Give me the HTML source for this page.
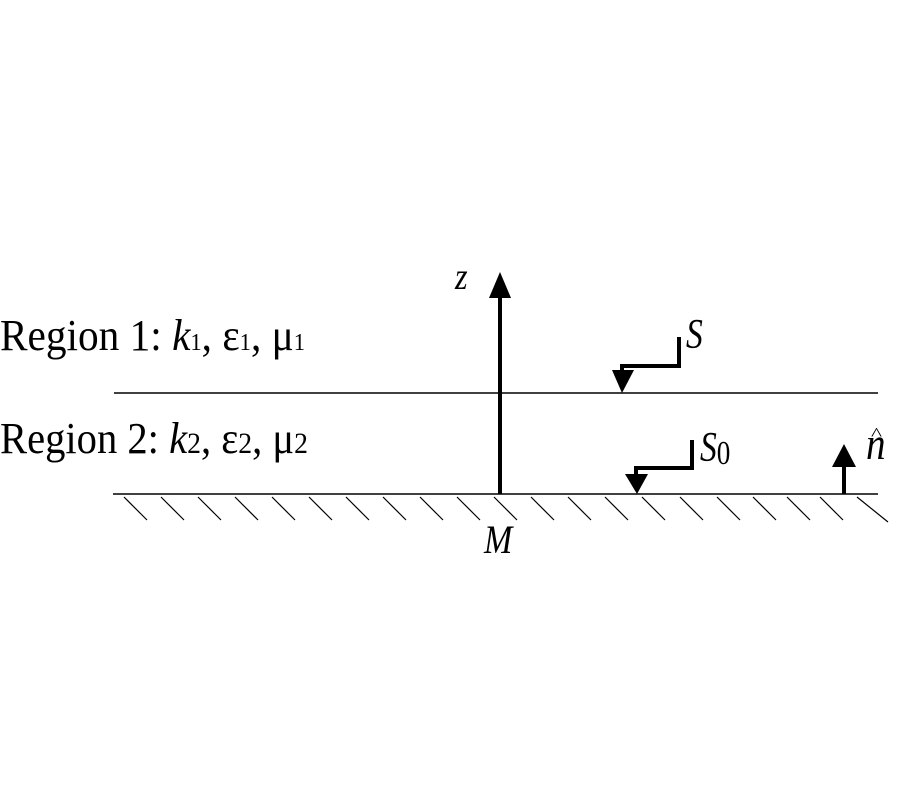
<!DOCTYPE html>
<html><head><meta charset="utf-8"><style>html,body{margin:0;padding:0;background:#fff}svg{display:block}</style></head>
<body>
<svg width="900" height="800" viewBox="0 0 900 800" xmlns="http://www.w3.org/2000/svg" font-family="Liberation Serif, serif">
<rect width="900" height="800" fill="#fff"/>
<line x1="114" y1="393" x2="878" y2="393" stroke="#000" stroke-width="1.5"/>
<line x1="113" y1="494" x2="878" y2="494" stroke="#000" stroke-width="1.5"/>
<g stroke="#000" stroke-width="1.2">
<line x1="124" y1="497" x2="147" y2="520"/><line x1="161" y1="497" x2="184" y2="520"/>
<line x1="198" y1="497" x2="221" y2="520"/><line x1="235" y1="497" x2="258" y2="520"/>
<line x1="272" y1="497" x2="295" y2="520"/><line x1="309" y1="497" x2="332" y2="520"/>
<line x1="346" y1="497" x2="369" y2="520"/><line x1="383" y1="497" x2="406" y2="520"/>
<line x1="420" y1="497" x2="443" y2="520"/><line x1="457" y1="497" x2="480" y2="520"/>
<line x1="494" y1="497" x2="517" y2="520"/><line x1="531" y1="497" x2="554" y2="520"/>
<line x1="568" y1="497" x2="591" y2="520"/><line x1="605" y1="497" x2="628" y2="520"/>
<line x1="642" y1="497" x2="665" y2="520"/><line x1="680" y1="497" x2="703" y2="520"/>
<line x1="717" y1="497" x2="740" y2="520"/><line x1="753" y1="497" x2="776" y2="520"/>
<line x1="787" y1="497" x2="810" y2="520"/><line x1="820" y1="497" x2="843" y2="520"/>
<line x1="857" y1="497" x2="888" y2="522"/>
</g>
<line x1="500" y1="494" x2="500" y2="296" stroke="#000" stroke-width="4"/>
<polygon points="489,298 511,298 500,272" fill="#000"/>
<text x="455" y="289" font-size="38" font-style="italic" transform="translate(455,289) scale(0.85,1) translate(-455,-289)">z</text>
<polyline points="679,337 679,366 622,366 622,372" fill="none" stroke="#000" stroke-width="4"/>
<polygon points="612,370 634,370 622,393" fill="#000"/>
<text x="686" y="348" font-size="42" font-style="italic" transform="translate(686,348) scale(0.8,1) translate(-686,-348)">S</text>
<polyline points="692,440 692,468 636,468 636,476" fill="none" stroke="#000" stroke-width="4"/>
<polygon points="625,474 648,474 637,494" fill="#000"/>
<text x="700" y="461" font-size="42" font-style="italic" transform="translate(700,461) scale(0.8,1) translate(-700,-461)">S<tspan font-style="normal" font-size="34" dy="3">0</tspan></text>
<line x1="844" y1="494" x2="844" y2="465" stroke="#000" stroke-width="4"/>
<polygon points="832,467 856,467 844,444" fill="#000"/>
<text x="866" y="459" font-size="46" font-style="italic" transform="translate(866,459) scale(0.85,1) translate(-866,-459)">n</text>
<text x="871" y="440" font-size="26" transform="translate(871,440) scale(0.9,0.7) translate(-871,-440)">^</text>
<text x="484" y="553" font-size="40" font-style="italic" transform="translate(484,553) scale(0.85,1) translate(-484,-553)">M</text>
<text x="0" y="350" font-size="44" textLength="305" lengthAdjust="spacingAndGlyphs">Region 1: <tspan font-style="italic">k</tspan><tspan font-size="24">1</tspan>, ε<tspan font-size="24">1</tspan>, μ<tspan font-size="24">1</tspan></text>
<text x="0" y="453" font-size="44" textLength="308" lengthAdjust="spacingAndGlyphs">Region 2: <tspan font-style="italic">k</tspan><tspan font-size="30">2</tspan>, ε<tspan font-size="30">2</tspan>, μ<tspan font-size="30">2</tspan></text>
</svg>
</body></html>
